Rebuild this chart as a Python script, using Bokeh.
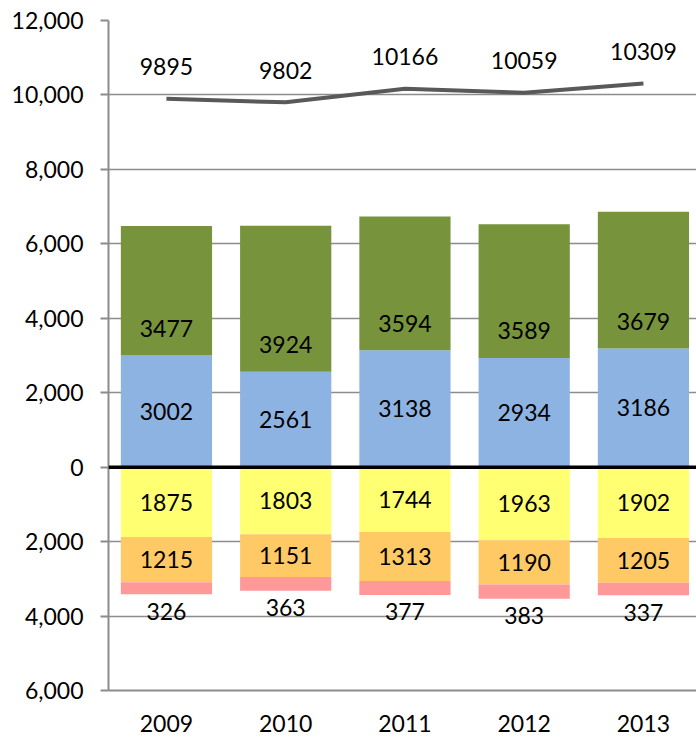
from bokeh.plotting import figure
from bokeh.models import ColumnDataSource, Range1d, FixedTicker, Span
from bokeh.core.properties import value
from bokeh.embed import file_html
from bokeh.resources import INLINE

years = ["2009", "2010", "2011", "2012", "2013"]
green_vals = [3477, 3924, 3594, 3589, 3679]
blue_vals = [3002, 2561, 3138, 2934, 3186]
yellow_vals = [1875, 1803, 1744, 1963, 1902]
orange_vals = [1215, 1151, 1313, 1190, 1205]
pink_vals = [326, 363, 377, 383, 337]
total_vals = [9895, 9802, 10166, 10059, 10309]
y_ticks = [-6000, -4000, -2000, 0, 2000, 4000, 6000, 8000, 10000, 12000]

FONT = value("Lato")
FS = "23px"
GRAY = "#8c8c8c"

x = list(range(len(years)))
blue_top = blue_vals
green_top = [b + g for b, g in zip(blue_vals, green_vals)]
yel_bot = [-v for v in yellow_vals]
ora_bot = [-(y + o) for y, o in zip(yellow_vals, orange_vals)]
pink_bot = [-(y + o + k) for y, o, k in zip(yellow_vals, orange_vals, pink_vals)]

src = ColumnDataSource(dict(
    x=x,
    zero=[0] * len(x),
    blue_top=blue_top,
    green_top=green_top,
    yel_bot=yel_bot,
    ora_bot=ora_bot,
    pink_bot=pink_bot,
    blue_mid=[b / 2 for b in blue_vals],
    yel_mid=[-y / 2 for y in yellow_vals],
    ora_mid=[a - o / 2 for a, o in zip(yel_bot, orange_vals)],
    total=total_vals,
    green_lab=[str(v) for v in green_vals],
    blue_lab=[str(v) for v in blue_vals],
    yel_lab=[str(v) for v in yellow_vals],
    ora_lab=[str(v) for v in orange_vals],
    pink_lab=[str(v) for v in pink_vals],
    total_lab=[str(v) for v in total_vals],
))

p = figure(
    width=696, height=738,
    min_border_left=108, min_border_right=0, min_border_top=20, min_border_bottom=48,
    x_range=Range1d(-0.486, 4.445), y_range=Range1d(-6000, 12000),
    output_backend="svg", toolbar_location=None,
)
p.outline_line_color = None
p.background_fill_color = "white"
p.border_fill_color = "white"

W = 0.765
p.vbar(x="x", bottom="zero", top="blue_top", width=W, source=src, fill_color="#8DB3E2", line_color=None)
p.vbar(x="x", bottom="blue_top", top="green_top", width=W, source=src, fill_color="#77933C", line_color=None)
p.vbar(x="x", bottom="yel_bot", top="zero", width=W, source=src, fill_color="#FFFF71", line_color=None)
p.vbar(x="x", bottom="ora_bot", top="yel_bot", width=W, source=src, fill_color="#FFC966", line_color=None)
p.vbar(x="x", bottom="pink_bot", top="ora_bot", width=W, source=src, fill_color="#FF9999", line_color=None)

p.add_layout(Span(location=0, dimension="width", line_color="black", line_width=3.5))

p.line(x="x", y="total", source=src, line_color="#595959", line_width=4)

common = dict(source=src, text_font=FONT, text_font_size=FS, text_color="black",
              text_align="center", text_baseline="middle")
p.text(x="x", y="total", text="total_lab", y_offset=-32, **common)
p.text(x="x", y="blue_top", text="green_lab", y_offset=-27, **common)
p.text(x="x", y="blue_mid", text="blue_lab", **common)
p.text(x="x", y="yel_mid", text="yel_lab", **common)
p.text(x="x", y="ora_mid", text="ora_lab", **common)
p.text(x="x", y="pink_bot", text="pink_lab", y_offset=17, **common)

# y axis
p.yaxis.ticker = FixedTicker(ticks=y_ticks)
p.yaxis.major_label_overrides = {t: f"{abs(t):,}" for t in y_ticks}
p.yaxis.major_label_text_font = "Lato"
p.yaxis.major_label_text_font_size = FS
p.yaxis.major_label_text_color = "black"
p.yaxis.axis_line_color = GRAY
p.yaxis.axis_line_width = 2
p.yaxis.major_tick_line_color = GRAY
p.yaxis.major_tick_line_width = 2
p.yaxis.major_tick_in = 0
p.yaxis.major_tick_out = 8
p.yaxis.minor_tick_line_color = None
p.yaxis.major_label_standoff = 17

# x axis
p.xaxis.ticker = FixedTicker(ticks=x)
p.xaxis.major_label_overrides = {i: y for i, y in zip(x, years)}
p.xaxis.major_label_text_font = "Lato"
p.xaxis.major_label_text_font_size = FS
p.xaxis.major_label_text_color = "black"
p.xaxis.axis_line_color = GRAY
p.xaxis.axis_line_width = 2
p.xaxis.major_tick_line_color = None
p.xaxis.major_tick_in = 0
p.xaxis.major_tick_out = 0
p.xaxis.minor_tick_line_color = None
p.xaxis.major_label_standoff = 24

p.xgrid.grid_line_color = None
p.ygrid.ticker = FixedTicker(ticks=y_ticks)
p.ygrid.grid_line_color = GRAY
p.ygrid.grid_line_width = 1.5

open("out.html", "w").write(file_html(p, INLINE))
